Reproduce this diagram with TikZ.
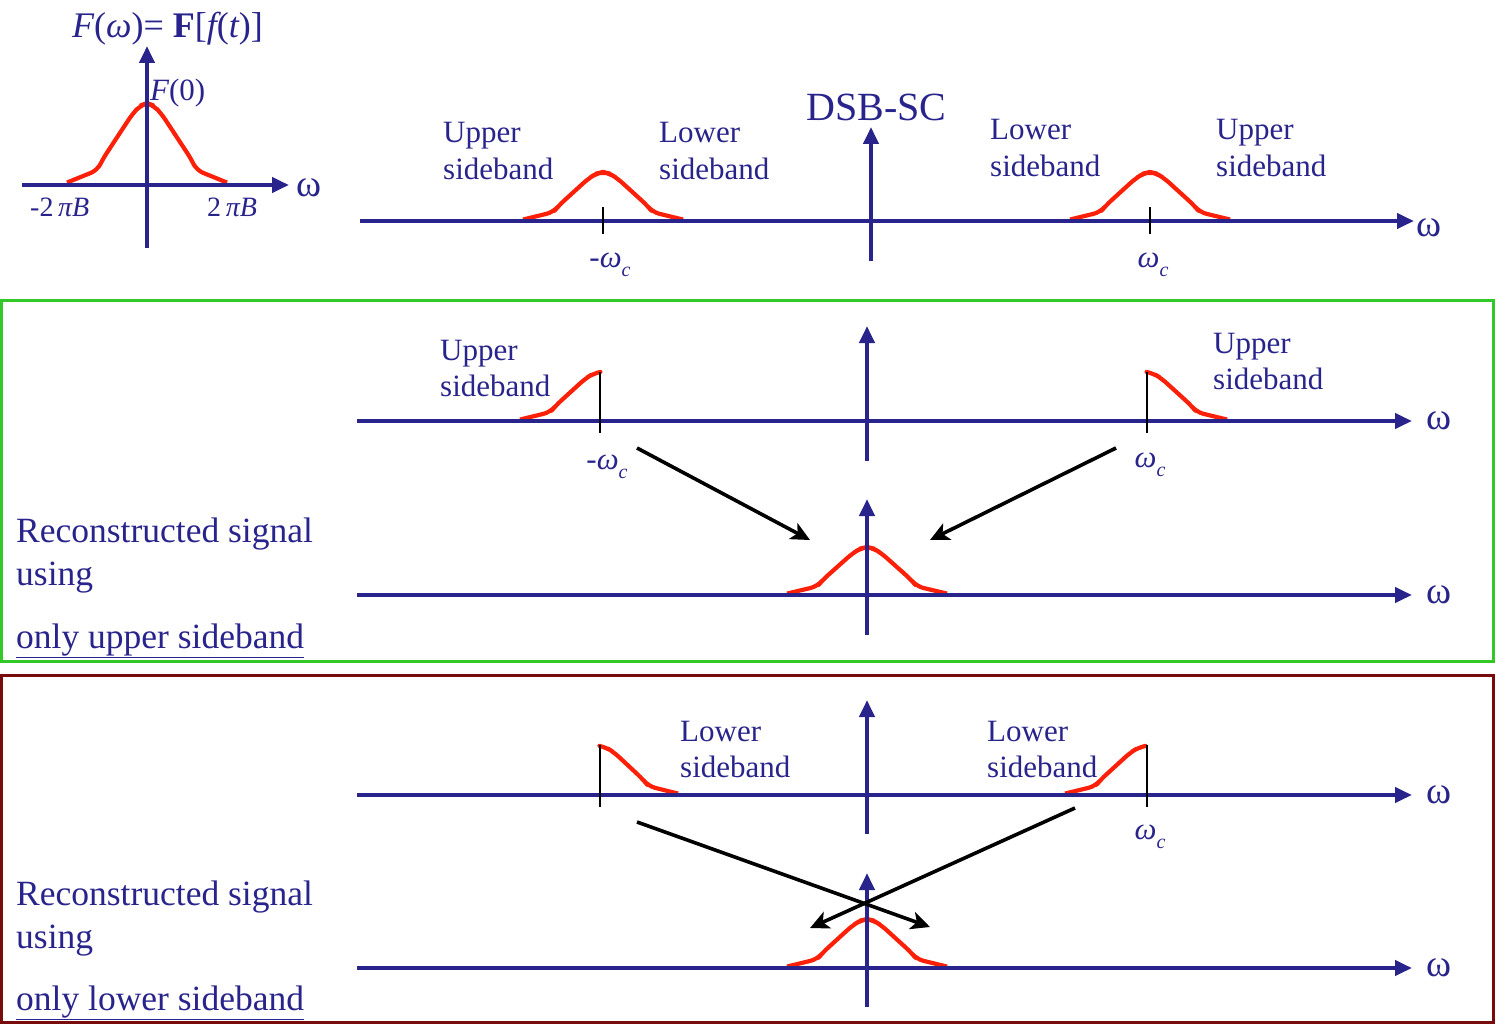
\documentclass[tikz,border=0pt]{standalone}
\usepackage{fontspec}
\setmainfont{Liberation Serif}
\usetikzlibrary{arrows.meta}
\definecolor{axisblue}{RGB}{40,36,140}
\definecolor{pulsered}{RGB}{252,32,8}
\definecolor{boxgreen}{RGB}{50,200,40}
\definecolor{boxred}{RGB}{120,12,12}
\newcommand\fsz[1]{\fontsize{#1}{#1}\selectfont}
\newcommand\omc{{\itshape ω\raisebox{-0.3em}{\fsz{20}c}}}
\tikzset{
  axis/.style={draw=axisblue, line width=4pt, -{Triangle[length=17pt,width=15pt]}},
  pulse/.style={draw=pulsered, line width=4.2pt, line join=round, rounded corners=7pt},
  tickmark/.style={draw=black, line width=2.4pt},
  shiftarrow/.style={draw=black, line width=3.6pt, -{Stealth[length=19pt,width=18pt,inset=5pt]}},
  lbl/.style={text=axisblue, inner sep=0pt, anchor=base west},
  sidelbl/.style={lbl, font=\fsz{31}},
  omegalbl/.style={text=axisblue, inner sep=0pt, anchor=center, font=\fsz{38}},
  omcl/.style={text=axisblue, inner sep=0pt, anchor=base, font=\fsz{31}},
  bigtxt/.style={lbl, font=\fsz{35.5}},
  fullpulse/.pic={\draw[pulse] (-1,-0.03) -- (-0.62,-0.18) -- (-0.55,-0.32) -- (-0.18,-0.87) -- (-0.08,-0.97) -- (0,-1) -- (0.08,-0.97) -- (0.18,-0.87) -- (0.55,-0.32) -- (0.62,-0.18) -- (1,-0.03);},
  lefthalf/.pic={\draw[pulse] (-1,-0.03) -- (-0.62,-0.18) -- (-0.55,-0.32) -- (-0.18,-0.87) -- (-0.08,-0.97) -- (0,-1);},
  righthalf/.pic={\draw[pulse] (0,-1) -- (0.08,-0.97) -- (0.18,-0.87) -- (0.55,-0.32) -- (0.62,-0.18) -- (1,-0.03);},
}
\begin{document}
\begin{tikzpicture}[x=1pt,y=-1pt]
\useasboundingbox (0,0) rectangle (1500,1030);

% ---------- baseband spectrum ----------
\coordinate (b0l) at (22,185);
\coordinate (b0r) at (289,185);
\coordinate (b0b) at (147,248);
\coordinate (b0t) at (147,46);
\pic[xscale=80,yscale=82] at (147,185) {fullpulse};
\draw[axis] (b0l) -- (b0r);
\draw[axis] (b0b) -- (b0t);
\node[lbl, font=\fsz{36}] (title) at (72,38) {{\itshape F}({\itshape ω})= \textbf{F}[{\itshape f}({\itshape t})]};
\node[lbl, font=\fsz{31}] (f0) at (150,101) {{\itshape F}(0)};
\node[lbl, font=\fsz{28}] (mB) at (30,216) {-2\,{\itshape πB}};
\node[lbl, font=\fsz{28}] (pB) at (207,216) {2\,{\itshape πB}};
\node[omegalbl] (w0) at (309,188) {ω};

% ---------- DSB-SC ----------
\coordinate (a1l) at (360,221);
\coordinate (a1r) at (1414,221);
\coordinate (a1b) at (871,261);
\coordinate (a1t) at (871,127);
\pic[xscale=80,yscale=49] at (603,221) {fullpulse};
\pic[xscale=80,yscale=49] at (1150,221) {fullpulse};
\draw[axis] (a1l) -- (a1r);
\draw[axis] (a1b) -- (a1t);
\coordinate (t1a) at (603,207); \coordinate (t1b) at (603,234);
\coordinate (t2a) at (1150,207); \coordinate (t2b) at (1150,234);
\draw[tickmark] (t1a) -- (t1b);
\draw[tickmark] (t2a) -- (t2b);
\node[omcl] (wc1) at (610,267) {-\omc};
\node[omcl] (wc2) at (1153,267) {\omc};
\node[omegalbl] (w1) at (1429,228) {ω};
\node[lbl, font=\fsz{40}] (dsb) at (806,121) {DSB-SC};
\node[sidelbl] (u1a) at (443,143) {Upper};
\node[sidelbl] (u1b) at (443,179) {sideband};
\node[sidelbl] (l1a) at (659,143) {Lower};
\node[sidelbl] (l1b) at (659,179) {sideband};
\node[sidelbl] (l2a) at (990,140) {Lower};
\node[sidelbl] (l2b) at (990,176) {sideband};
\node[sidelbl] (u2a) at (1216,140) {Upper};
\node[sidelbl] (u2b) at (1216,176) {sideband};

% ---------- upper sideband panel ----------
\draw[boxgreen, line width=3pt] (1.5,300.5) rectangle (1493.5,661);
\coordinate (a2l) at (357,421);
\coordinate (a2r) at (1412,421);
\coordinate (a2b) at (867,461);
\coordinate (a2t) at (867,326);
\pic[xscale=80,yscale=49] at (600,421) {lefthalf};
\pic[xscale=80,yscale=49] at (1147,421) {righthalf};
\draw[axis] (a2l) -- (a2r);
\draw[axis] (a2b) -- (a2t);
\coordinate (t3a) at (600,372); \coordinate (t3b) at (600,433);
\coordinate (t4a) at (1147,372); \coordinate (t4b) at (1147,433);
\draw[tickmark] (t3a) -- (t3b);
\draw[tickmark] (t4a) -- (t4b);
\node[omcl] (wc3) at (607,469) {-\omc};
\node[omcl] (wc4) at (1150,467) {\omc};
\node[omegalbl] (w2) at (1439,421) {ω};
\node[sidelbl] (u3a) at (440,360) {Upper};
\node[sidelbl] (u3b) at (440,396) {sideband};
\node[sidelbl] (u4a) at (1213,353) {Upper};
\node[sidelbl] (u4b) at (1213,389) {sideband};

\coordinate (a3l) at (357,595);
\coordinate (a3r) at (1412,595);
\coordinate (a3b) at (867,635);
\coordinate (a3t) at (867,499);
\pic[xscale=80,yscale=48] at (867,595) {fullpulse};
\draw[axis] (a3l) -- (a3r);
\draw[axis] (a3b) -- (a3t);
\node[omegalbl] (w3) at (1439,595) {ω};
\coordinate (s1) at (637,448); \coordinate (e1) at (810,540);
\coordinate (s2) at (1116,448); \coordinate (e2) at (930,540);
\draw[shiftarrow] (s1) -- (e1);
\draw[shiftarrow] (s2) -- (e2);
\node[bigtxt] (r1a) at (16,542) {Reconstructed signal};
\node[bigtxt] (r1b) at (16,585) {using};
\node[bigtxt] (r1c) at (16,648) {\underline{only upper sideband}};

% ---------- lower sideband panel ----------
\draw[boxred, line width=3pt] (1.5,675) rectangle (1493.5,1022);
\coordinate (a4l) at (357,795);
\coordinate (a4r) at (1412,795);
\coordinate (a4b) at (867,834);
\coordinate (a4t) at (867,700);
\pic[xscale=78,yscale=49] at (600,795) {righthalf};
\pic[xscale=80,yscale=49] at (1145,795) {lefthalf};
\draw[axis] (a4l) -- (a4r);
\draw[axis] (a4b) -- (a4t);
\coordinate (t5a) at (600,745); \coordinate (t5b) at (600,807);
\coordinate (t6a) at (1147,745); \coordinate (t6b) at (1147,807);
\draw[tickmark] (t5a) -- (t5b);
\draw[tickmark] (t6a) -- (t6b);
\node[omcl] (wc6) at (1150,839) {\omc};
\node[omegalbl] (w4) at (1439,795) {ω};
\node[sidelbl] (l3a) at (680,741) {Lower};
\node[sidelbl] (l3b) at (680,777) {sideband};
\node[sidelbl] (l4a) at (987,741) {Lower};
\node[sidelbl] (l4b) at (987,777) {sideband};

\coordinate (a5l) at (357,968);
\coordinate (a5r) at (1412,968);
\coordinate (a5b) at (867,1007);
\coordinate (a5t) at (867,873);
\pic[xscale=80,yscale=49] at (867,968) {fullpulse};
\draw[axis] (a5l) -- (a5r);
\draw[axis] (a5b) -- (a5t);
\node[omegalbl] (w5) at (1439,968) {ω};
\coordinate (s3) at (637,822); \coordinate (e3) at (930,927);
\coordinate (s4) at (1075,808); \coordinate (e4) at (810,928);
\draw[shiftarrow] (s3) -- (e3);
\draw[shiftarrow] (s4) -- (e4);
\node[bigtxt] (r2a) at (16,905) {Reconstructed signal};
\node[bigtxt] (r2b) at (16,948) {using};
\node[bigtxt] (r2c) at (16,1010) {\underline{only lower sideband}};
\end{tikzpicture}
\end{document}
